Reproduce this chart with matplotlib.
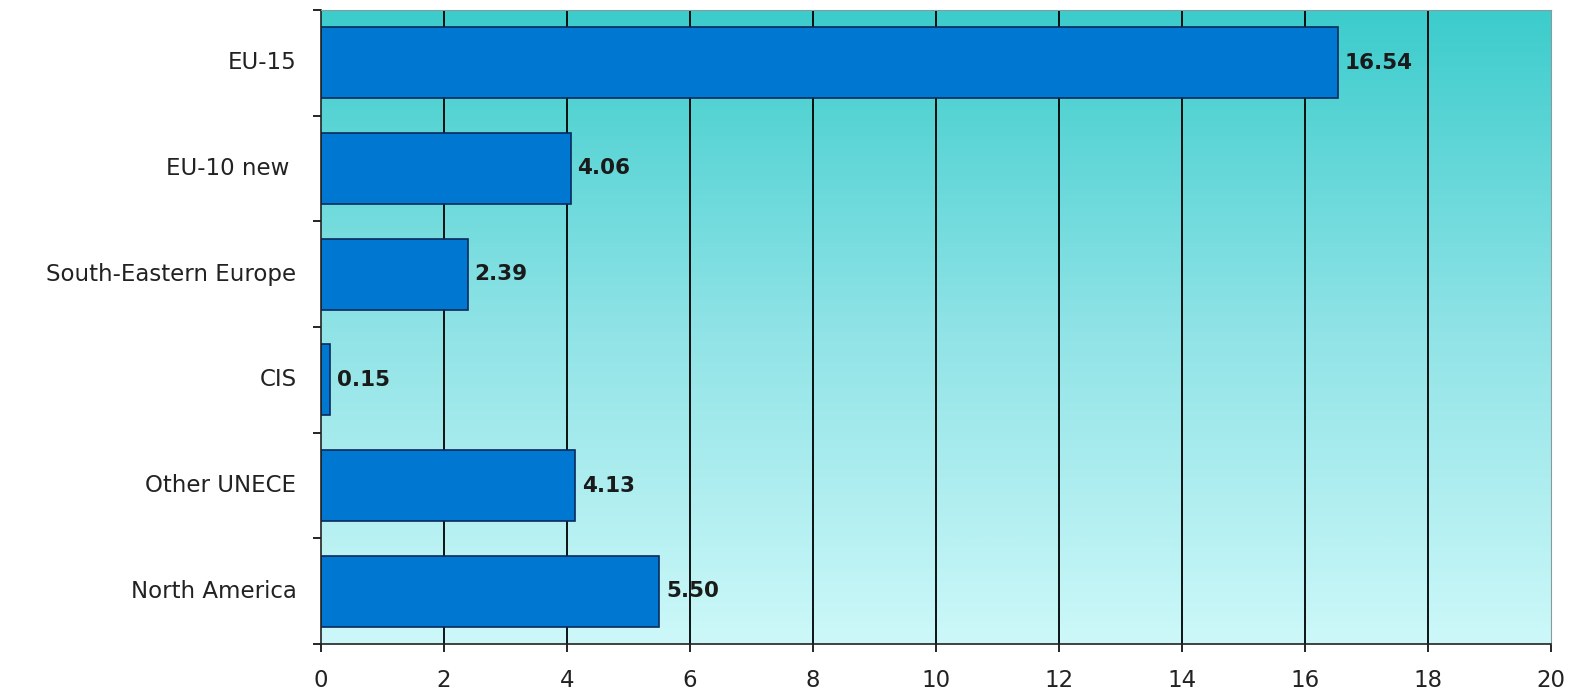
import numpy as np
import matplotlib.pyplot as plt
from matplotlib.colors import LinearSegmentedColormap

regions = ['EU-15', 'EU-10 new ', 'South-Eastern Europe', 'CIS', 'Other UNECE', 'North America']
values = [16.54, 4.06, 2.39, 0.15, 4.13, 5.50]
value_labels = ['16.54', '4.06', '2.39', '0.15', '4.13', '5.50']
x_ticks = [0, 2, 4, 6, 8, 10, 12, 14, 16, 18, 20]

plt.rcParams['font.family'] = ['DejaVu Sans']

fig = plt.figure(figsize=(15.77, 6.94), dpi=100)
ax = fig.add_axes([321 / 1577, 1 - 644 / 694, (1551 - 321) / 1577, (644 - 10) / 694])

# gradient background, turquoise at top fading to pale cyan
cmap = LinearSegmentedColormap.from_list('bg', ['#3ccccc', '#8fe3e6', '#cdf8f9'])
grad = np.linspace(0, 1, 256).reshape(-1, 1)
ax.imshow(grad, cmap=cmap, aspect='auto', extent=[0, 1, 0, 1],
          transform=ax.transAxes, zorder=0)

y = np.arange(len(regions))
ax.set_xlim(0, 20)
ax.set_ylim(len(regions) - 0.5, -0.5)

for xv in x_ticks[1:-1]:
    ax.axvline(xv, color='black', linewidth=1.3, zorder=1)

ax.barh(y, values, height=0.67, color='#0077d0', edgecolor='#0a2a5a',
        linewidth=1.2, zorder=2)

for yi, v, lab in zip(y, values, value_labels):
    ax.text(v + 0.11, yi, lab, ha='left', va='center', fontsize=15.5,
            fontweight='bold', color='#1a1a1a', zorder=3)

ax.set_xticks(x_ticks)
ax.set_xticklabels([str(t) for t in x_ticks], fontsize=16.5, color='#222222')
ax.tick_params(axis='x', length=6, width=1.2, pad=12)

# category labels centred on bars, ticks on the boundaries
ax.set_yticks(np.arange(len(regions) + 1) - 0.5)
ax.set_yticklabels([])
ax.tick_params(axis='y', length=6, width=1.2)
for yi, name in zip(y, regions):
    ax.text(-0.02, yi, name, transform=ax.get_yaxis_transform(), ha='right',
            va='center', fontsize=16.5, color='#222222')

ax.spines['left'].set_color('#222222')
ax.spines['bottom'].set_color('#222222')
ax.spines['left'].set_linewidth(1.2)
ax.spines['bottom'].set_linewidth(1.2)
ax.spines['top'].set_color('#8a9a9a')
ax.spines['right'].set_color('#8a9a9a')

fig.savefig('out.png', dpi=100)
